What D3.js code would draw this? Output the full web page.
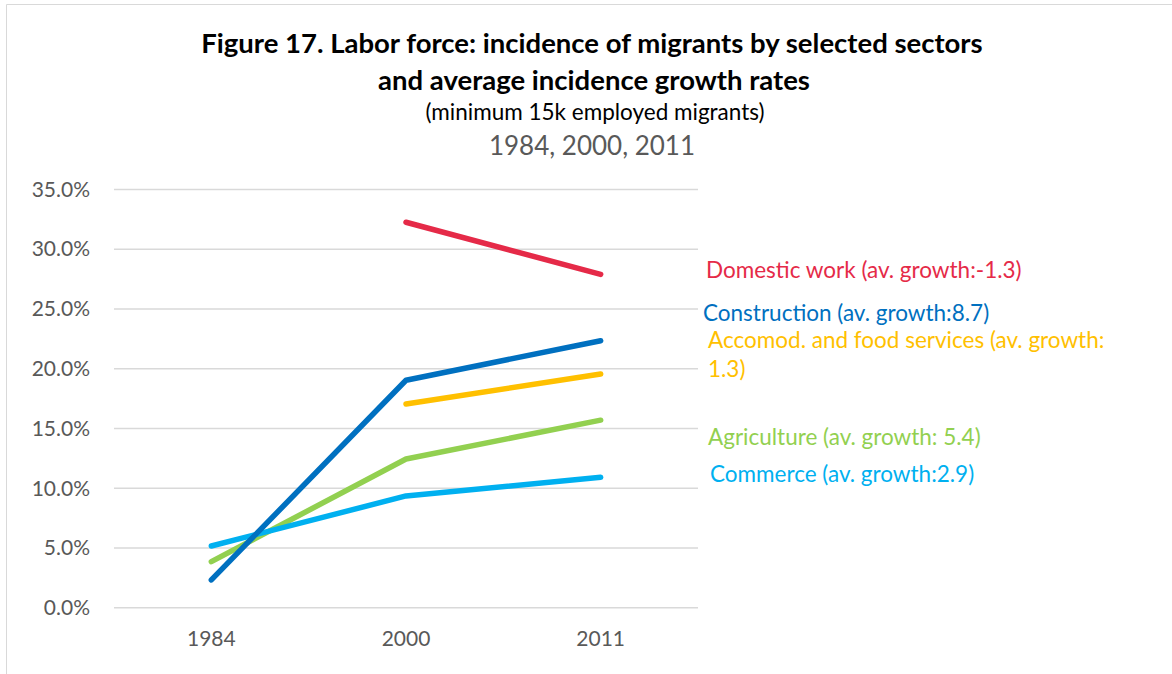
<!DOCTYPE html>
<html>
<head>
<meta charset="utf-8">
<script src="https://cdn.jsdelivr.net/npm/d3@7/dist/d3.min.js"></script>
<style>
  html, body { margin: 0; padding: 0; background: #fff; }
  svg { display: block; font-family: Lato, "Open Sans", sans-serif; }
</style>
</head>
<body>
<svg id="chart" width="1172" height="674"></svg>
<script>
// Survey years on the x axis
const years = ["1984", "2000", "2011"];

// Share of migrants among employed workers, in percent (null = not available)
const domesticWork = [null, 32.26, 27.9];
const construction = [2.33, 19.04, 22.35];
const accomFood = [null, 17.05, 19.56];
const agriculture = [3.86, 12.45, 15.7];
const commerce = [5.17, 9.36, 10.92];

// Series labels (with average incidence growth rates)
const seriesNames = ["Domestic work", "Construction", "Accomod. and food services", "Agriculture", "Commerce"];
const seriesLabels = [
  ["Domestic work (av. growth:-1.3)"],
  ["Construction (av. growth:8.7)"],
  ["Accomod. and food services (av. growth:", "1.3)"],
  ["Agriculture (av. growth: 5.4)"],
  ["Commerce (av. growth:2.9)"]
];
const seriesColors = ["#e52a48", "#0070c0", "#ffc000", "#92d050", "#00b0f0"];

// Y ticks in percent
const yTicks = [0, 5, 10, 15, 20, 25, 30, 35];

const seriesValues = [domesticWork, construction, accomFood, agriculture, commerce];

const svg = d3.select("#chart");

// Outer frame of the chart area
svg.append("path")
  .attr("d", "M6.5,674 V4.5 H1172")
  .attr("fill", "none")
  .attr("stroke", "#d9d9d9")
  .attr("stroke-width", 1);

// Titles
const cx = 592;
svg.append("text").attr("x", cx).attr("y", 53).attr("text-anchor", "middle")
  .style("font-family", "Lato, sans-serif")
  .attr("font-weight", "bold").attr("font-size", 27.5).attr("fill", "#000")
  .text("Figure 17. Labor force: incidence of migrants by selected sectors");
svg.append("text").attr("x", cx + 2).attr("y", 90).attr("text-anchor", "middle")
  .style("font-family", "Lato, sans-serif")
  .attr("font-weight", "bold").attr("font-size", 27.5).attr("fill", "#000")
  .text("and average incidence growth rates");
svg.append("text").attr("x", cx + 3).attr("y", 120).attr("text-anchor", "middle")
  .style("font-family", "Lato, sans-serif")
  .attr("font-size", 22.5).attr("fill", "#000")
  .text("(minimum 15k employed migrants)");
svg.append("text").attr("x", cx).attr("y", 155).attr("text-anchor", "middle")
  .style("font-family", "Lato, sans-serif")
  .attr("font-size", 26).attr("fill", "#595959")
  .text("1984, 2000, 2011");

// Plot area
const plot = { left: 114, right: 698, top: 189.5, bottom: 607.8 };

const x = d3.scaleBand().domain(years).range([plot.left, plot.right]);
const y = d3.scaleLinear().domain([0, 35]).range([plot.bottom, plot.top]);

// Horizontal gridlines
svg.append("g")
  .selectAll("line")
  .data(yTicks)
  .join("line")
  .attr("x1", plot.left).attr("x2", plot.right)
  .attr("y1", d => y(d)).attr("y2", d => y(d))
  .attr("stroke", "#d9d9d9").attr("stroke-width", 1.5);

// Y axis labels
const yAxis = d3.axisLeft(y).tickValues(yTicks).tickFormat(d => d.toFixed(1) + "%").tickSize(0).tickPadding(0);
svg.append("g")
  .attr("transform", `translate(${90},0)`)
  .call(yAxis)
  .call(g => g.select(".domain").remove())
  .call(g => g.selectAll("text")
    .style("font-family", "Lato, sans-serif")
    .style("font-size", "21px").attr("fill", "#595959"));

// X axis labels
const xAxis = d3.axisBottom(x).tickSize(0).tickPadding(0);
svg.append("g")
  .attr("transform", `translate(0,${631})`)
  .call(xAxis)
  .call(g => g.select(".domain").remove())
  .call(g => g.selectAll("text")
    .style("font-family", "Lato, sans-serif")
    .style("font-size", "21px").attr("fill", "#595959"));

// Lines
const line = d3.line()
  .defined(d => d.v !== null)
  .x(d => x(d.year) + x.bandwidth() / 2)
  .y(d => y(d.v));

// Draw from back to front so the construction line sits on top near 1984
const drawOrder = [0, 2, 3, 4, 1];
svg.append("g")
  .selectAll("path")
  .data(drawOrder)
  .join("path")
  .attr("d", i => line(years.map((yr, k) => ({ year: yr, v: seriesValues[i][k] }))))
  .attr("fill", "none")
  .attr("stroke", i => seriesColors[i])
  .attr("stroke-width", 5.5)
  .attr("stroke-linecap", "round")
  .attr("stroke-linejoin", "round");

// Series labels to the right of the plot, anchored in value units
const labelAt = [28.27, 24.67, 22.4, 14.29, 11.2];
const labelX = [706, 703, 708, 708, 710];
const lineGap = 29;
const lg = svg.append("g");
seriesLabels.forEach((lines, i) => {
  lines.forEach((t, j) => {
    lg.append("text")
      .attr("x", labelX[i])
      .attr("y", y(labelAt[i]) + j * lineGap)
      .attr("dy", "0.35em")
      .style("font-family", "Lato, sans-serif")
      .style("font-size", "22.5px")
      .attr("fill", seriesColors[i])
      .text(t);
  });
});
</script>
</body>
</html>
